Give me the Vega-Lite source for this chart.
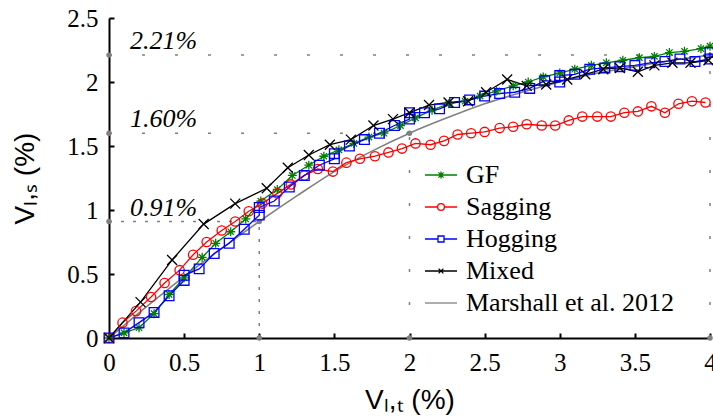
{
  "$schema": "https://vega.github.io/schema/vega-lite/v6.json",
  "width": 601,
  "height": 320,
  "autosize": {"type": "none"},
  "padding": {"left": 109, "top": 18, "right": 3, "bottom": 80},
  "background": "white",
  "config": {
    "view": {"stroke": null},
    "axis": {
      "domainColor": "black", "domainWidth": 2, "tickColor": "black", "tickWidth": 2,
      "tickSize": -5, "grid": false, "labelFont": "Liberation Serif", "labelFontSize": 25,
      "labelColor": "black", "titleFont": "Liberation Sans", "titleFontSize": 28,
      "titleFontWeight": "normal", "titleColor": "black", "labelFlush": false, "labelOverlap": false, "format": "~g"
    },
    "text": {"font": "Liberation Serif"}
  },
  "resolve": {"scale": {"shape": "independent", "color": "independent"}},
  "datasets": {
    "series": [
      {"s":"GF","x":0,"y":0},{"s":"GF","x":0.10,"y":0.04},{"s":"GF","x":0.20,"y":0.08},{"s":"GF","x":0.30,"y":0.19},
      {"s":"GF","x":0.40,"y":0.34},{"s":"GF","x":0.50,"y":0.47},{"s":"GF","x":0.62,"y":0.63},{"s":"GF","x":0.71,"y":0.74},
      {"s":"GF","x":0.81,"y":0.83},{"s":"GF","x":0.91,"y":0.93},{"s":"GF","x":1.01,"y":1.07},{"s":"GF","x":1.12,"y":1.16},
      {"s":"GF","x":1.22,"y":1.27},{"s":"GF","x":1.33,"y":1.35},{"s":"GF","x":1.43,"y":1.42},{"s":"GF","x":1.53,"y":1.47},
      {"s":"GF","x":1.63,"y":1.52},{"s":"GF","x":1.73,"y":1.57},{"s":"GF","x":1.83,"y":1.60},{"s":"GF","x":1.94,"y":1.66},
      {"s":"GF","x":2.04,"y":1.72},{"s":"GF","x":2.15,"y":1.78},{"s":"GF","x":2.26,"y":1.83},{"s":"GF","x":2.37,"y":1.85},
      {"s":"GF","x":2.47,"y":1.89},{"s":"GF","x":2.58,"y":1.93},{"s":"GF","x":2.69,"y":1.97},{"s":"GF","x":2.79,"y":2.00},
      {"s":"GF","x":2.89,"y":2.04},{"s":"GF","x":3.00,"y":2.07},{"s":"GF","x":3.10,"y":2.10},{"s":"GF","x":3.21,"y":2.13},
      {"s":"GF","x":3.31,"y":2.15},{"s":"GF","x":3.42,"y":2.17},{"s":"GF","x":3.53,"y":2.19},{"s":"GF","x":3.63,"y":2.20},
      {"s":"GF","x":3.73,"y":2.23},{"s":"GF","x":3.83,"y":2.24},{"s":"GF","x":3.94,"y":2.26},{"s":"GF","x":4.0,"y":2.28},

      {"s":"Sagging","x":0,"y":0},{"s":"Sagging","x":0.09,"y":0.12},{"s":"Sagging","x":0.18,"y":0.21},{"s":"Sagging","x":0.28,"y":0.32},
      {"s":"Sagging","x":0.37,"y":0.43},{"s":"Sagging","x":0.47,"y":0.53},{"s":"Sagging","x":0.56,"y":0.65},{"s":"Sagging","x":0.65,"y":0.75},
      {"s":"Sagging","x":0.75,"y":0.84},{"s":"Sagging","x":0.84,"y":0.91},{"s":"Sagging","x":0.93,"y":0.99},{"s":"Sagging","x":1.02,"y":1.05},
      {"s":"Sagging","x":1.12,"y":1.13},{"s":"Sagging","x":1.21,"y":1.20},{"s":"Sagging","x":1.30,"y":1.27},{"s":"Sagging","x":1.39,"y":1.32},
      {"s":"Sagging","x":1.49,"y":1.30},{"s":"Sagging","x":1.58,"y":1.37},{"s":"Sagging","x":1.67,"y":1.40},{"s":"Sagging","x":1.77,"y":1.42},
      {"s":"Sagging","x":1.86,"y":1.45},{"s":"Sagging","x":1.95,"y":1.48},{"s":"Sagging","x":2.04,"y":1.52},{"s":"Sagging","x":2.14,"y":1.51},
      {"s":"Sagging","x":2.23,"y":1.54},{"s":"Sagging","x":2.32,"y":1.59},{"s":"Sagging","x":2.41,"y":1.60},{"s":"Sagging","x":2.50,"y":1.61},
      {"s":"Sagging","x":2.60,"y":1.64},{"s":"Sagging","x":2.69,"y":1.65},{"s":"Sagging","x":2.78,"y":1.67},{"s":"Sagging","x":2.88,"y":1.66},
      {"s":"Sagging","x":2.97,"y":1.66},{"s":"Sagging","x":3.06,"y":1.70},{"s":"Sagging","x":3.15,"y":1.73},{"s":"Sagging","x":3.25,"y":1.73},
      {"s":"Sagging","x":3.34,"y":1.73},{"s":"Sagging","x":3.43,"y":1.76},{"s":"Sagging","x":3.52,"y":1.77},{"s":"Sagging","x":3.61,"y":1.81},
      {"s":"Sagging","x":3.70,"y":1.76},{"s":"Sagging","x":3.79,"y":1.83},{"s":"Sagging","x":3.88,"y":1.85},{"s":"Sagging","x":3.97,"y":1.84},

      {"s":"Hogging","x":0,"y":0},{"s":"Hogging","x":0.1,"y":0.04},{"s":"Hogging","x":0.2,"y":0.12},{"s":"Hogging","x":0.3,"y":0.20},
      {"s":"Hogging","x":0.4,"y":0.33},{"s":"Hogging","x":0.5,"y":0.45},{"s":"Hogging","x":0.5,"y":0.49},{"s":"Hogging","x":0.6,"y":0.54},
      {"s":"Hogging","x":0.7,"y":0.66},{"s":"Hogging","x":0.8,"y":0.74},{"s":"Hogging","x":0.9,"y":0.85},{"s":"Hogging","x":1.0,"y":0.96},
      {"s":"Hogging","x":1.0,"y":1.02},{"s":"Hogging","x":1.1,"y":1.07},{"s":"Hogging","x":1.2,"y":1.18},{"s":"Hogging","x":1.3,"y":1.27},
      {"s":"Hogging","x":1.4,"y":1.35},{"s":"Hogging","x":1.5,"y":1.40},{"s":"Hogging","x":1.5,"y":1.44},{"s":"Hogging","x":1.6,"y":1.50},
      {"s":"Hogging","x":1.7,"y":1.55},{"s":"Hogging","x":1.8,"y":1.60},{"s":"Hogging","x":1.9,"y":1.66},{"s":"Hogging","x":2.0,"y":1.71},
      {"s":"Hogging","x":2.0,"y":1.76},{"s":"Hogging","x":2.1,"y":1.76},{"s":"Hogging","x":2.2,"y":1.79},{"s":"Hogging","x":2.3,"y":1.84},
      {"s":"Hogging","x":2.4,"y":1.86},{"s":"Hogging","x":2.5,"y":1.89},{"s":"Hogging","x":2.6,"y":1.91},{"s":"Hogging","x":2.7,"y":1.92},
      {"s":"Hogging","x":2.8,"y":1.95},{"s":"Hogging","x":2.9,"y":2.01},{"s":"Hogging","x":3.0,"y":2.00},{"s":"Hogging","x":3.0,"y":2.05},
      {"s":"Hogging","x":3.1,"y":2.06},{"s":"Hogging","x":3.2,"y":2.10},{"s":"Hogging","x":3.3,"y":2.11},{"s":"Hogging","x":3.4,"y":2.12},
      {"s":"Hogging","x":3.5,"y":2.13},{"s":"Hogging","x":3.6,"y":2.15},{"s":"Hogging","x":3.7,"y":2.16},{"s":"Hogging","x":3.8,"y":2.18},
      {"s":"Hogging","x":3.9,"y":2.16},{"s":"Hogging","x":4.0,"y":2.18},{"s":"Hogging","x":4.0,"y":2.23},

      {"s":"Mixed","x":0,"y":0},{"s":"Mixed","x":0.21,"y":0.28},{"s":"Mixed","x":0.42,"y":0.61},{"s":"Mixed","x":0.63,"y":0.89},
      {"s":"Mixed","x":0.84,"y":1.05},{"s":"Mixed","x":1.05,"y":1.17},{"s":"Mixed","x":1.19,"y":1.33},{"s":"Mixed","x":1.33,"y":1.43},
      {"s":"Mixed","x":1.47,"y":1.51},{"s":"Mixed","x":1.61,"y":1.55},{"s":"Mixed","x":1.76,"y":1.66},{"s":"Mixed","x":1.89,"y":1.71},
      {"s":"Mixed","x":2.00,"y":1.76},{"s":"Mixed","x":2.13,"y":1.82},{"s":"Mixed","x":2.26,"y":1.84},{"s":"Mixed","x":2.39,"y":1.85},
      {"s":"Mixed","x":2.51,"y":1.92},{"s":"Mixed","x":2.65,"y":2.02},{"s":"Mixed","x":2.78,"y":1.97},{"s":"Mixed","x":2.91,"y":1.98},
      {"s":"Mixed","x":3.05,"y":2.02},{"s":"Mixed","x":3.17,"y":2.06},{"s":"Mixed","x":3.29,"y":2.10},{"s":"Mixed","x":3.40,"y":2.11},
      {"s":"Mixed","x":3.52,"y":2.08},{"s":"Mixed","x":3.63,"y":2.13},{"s":"Mixed","x":3.75,"y":2.15},{"s":"Mixed","x":3.87,"y":2.15},
      {"s":"Mixed","x":3.99,"y":2.17}
    ],
    "marshall": [
      {"x":0,"y":0},{"x":0.25,"y":0.245},{"x":0.5,"y":0.48},{"x":0.75,"y":0.70},{"x":1,"y":0.91},
      {"x":1.25,"y":1.11},{"x":1.5,"y":1.30},{"x":1.75,"y":1.46},{"x":2,"y":1.60},{"x":2.25,"y":1.72},
      {"x":2.5,"y":1.83},{"x":2.75,"y":1.92},{"x":3,"y":2.00},{"x":3.25,"y":2.07},{"x":3.5,"y":2.12},
      {"x":3.75,"y":2.17},{"x":4,"y":2.21}
    ],
    "guides": [
      {"g":"a","x":0,"y":0.91,"x2":1,"y2":0.91},{"g":"a","x":1,"y":0,"x2":1,"y2":0.91},
      {"g":"b","x":0,"y":1.60,"x2":2,"y2":1.60},{"g":"b","x":2,"y":0,"x2":2,"y2":1.60},
      {"g":"b","x":0,"y":2.21,"x2":4,"y2":2.21},{"g":"b","x":4,"y":0,"x2":4,"y2":2.21}
    ],
    "dots": [
      {"x":0,"y":0.91},{"x":0,"y":1.60},{"x":0,"y":2.21},{"x":1,"y":0},{"x":2,"y":0},{"x":4,"y":0},
      {"x":1,"y":0.91},{"x":2,"y":1.60},{"x":4,"y":2.21}
    ],
    "pct": [
      {"v":0.91,"t":"0.91%"},{"v":1.60,"t":"1.60%"},{"v":2.21,"t":"2.21%"}
    ],
    "legendkeys": [
      {"s":"GF"},{"s":"Sagging"},{"s":"Hogging"},{"s":"Mixed"},{"s":"Marshall et al. 2012"}
    ]
  },
  "layer": [
    {
      "data": {"name": "guides"},
      "transform": [{"filter": "datum.g === 'a'"}],
      "mark": {"type": "rule", "color": "#808080", "strokeWidth": 1.5, "strokeDash": [3, 9]},
      "encoding": {
        "x": {"field": "x", "type": "quantitative", "scale": {"domain": [0, 4], "nice": false},
          "axis": {"title": "Vₗ,ₜ (%)", "values": [0,0.5,1,1.5,2,2.5,3,3.5,4], "labelPadding": 17, "titleBaseline": "alphabetic", "titleY": 70}},
        "y": {"field": "y", "type": "quantitative", "scale": {"domain": [0, 2.5], "nice": false},
          "axis": {"title": "Vₗ,ₛ (%)", "values": [0,0.5,1,1.5,2,2.5], "labelPadding": 16, "titleBaseline": "alphabetic", "titleX": -76, "titleY": 160, "titleAngle": 270}},
        "x2": {"field": "x2"}, "y2": {"field": "y2"}}
    },
    {
      "data": {"name": "guides"},
      "transform": [{"filter": "datum.g === 'b'"}],
      "mark": {"type": "rule", "color": "#808080", "strokeWidth": 1.5, "strokeDash": [3, 30]},
      "encoding": {"x": {"field": "x", "type": "quantitative"}, "y": {"field": "y", "type": "quantitative"},
        "x2": {"field": "x2"}, "y2": {"field": "y2"}}
    },
    {
      "data": {"name": "dots"},
      "mark": {"type": "point", "filled": true, "color": "#808080", "size": 30, "opacity": 1},
      "encoding": {"x": {"field": "x", "type": "quantitative"}, "y": {"field": "y", "type": "quantitative"}}
    },
    {
      "data": {"name": "marshall"},
      "mark": {"type": "line", "strokeWidth": 1.6, "interpolate": "monotone", "color": "#808080"},
      "encoding": {"x": {"field": "x", "type": "quantitative"}, "y": {"field": "y", "type": "quantitative"}}
    },
    {
      "data": {"name": "series"},
      "mark": {"type": "line", "strokeWidth": 1.3},
      "encoding": {
        "x": {"field": "x", "type": "quantitative"}, "y": {"field": "y", "type": "quantitative"},
        "color": {"field": "s", "type": "nominal", "legend": null,
          "scale": {"domain": ["GF", "Sagging", "Hogging", "Mixed"],
                    "range": ["#008000", "#ff0000", "#0000ff", "#000000"]}}
      }
    },
    {
      "data": {"name": "series"},
      "mark": {"type": "point", "filled": false, "strokeWidth": 1.3, "opacity": 1},
      "encoding": {
        "x": {"field": "x", "type": "quantitative"}, "y": {"field": "y", "type": "quantitative"},
        "color": {"field": "s", "type": "nominal", "legend": null,
          "scale": {"domain": ["GF", "Sagging", "Hogging", "Mixed"],
                    "range": ["#008000", "#ff0000", "#0000ff", "#000000"]}},
        "shape": {"field": "s", "type": "nominal", "legend": null,
          "scale": {"domain": ["GF", "Sagging", "Hogging", "Mixed"],
                    "range": ["M-1,0H1M0,-1V1M-0.7,-0.7L0.7,0.7M-0.7,0.7L0.7,-0.7", "circle", "square", "M-1,-1L1,1M-1,1L1,-1"]}},
        "size": {"field": "s", "type": "nominal", "legend": null,
          "scale": {"domain": ["GF", "Sagging", "Hogging", "Mixed"], "range": [81, 100, 72, 49]}}
      }
    },
    {
      "data": {"name": "legendkeys"},
      "mark": {"type": "point", "filled": false, "opacity": 0, "strokeWidth": 1.3},
      "encoding": {
        "x": {"datum": 0},
        "y": {"datum": 0},
        "color": {"field": "s", "type": "nominal",
          "scale": {"domain": ["GF", "Sagging", "Hogging", "Mixed", "Marshall et al. 2012"],
                    "range": ["#008000", "#ff0000", "#0000ff", "#000000", "#808080"]},
          "legend": {
            "title": null, "orient": "none", "legendX": 319, "legendY": 144, "padding": 0,
            "rowPadding": 6, "labelOffset": 12, "labelFont": "Liberation Serif", "labelFontSize": 26,
            "labelColor": "black", "symbolSize": 64, "symbolStrokeWidth": 1.3, "labelLimit": 400,
            "symbolOpacity": 1, "symbolFillColor": "transparent"
          }},
        "shape": {"field": "s", "type": "nominal",
          "scale": {"domain": ["GF", "Sagging", "Hogging", "Mixed", "Marshall et al. 2012"],
                    "range": ["M-4,0H4M0,-0.9V0.9M-0.65,-0.65L0.65,0.65M-0.65,0.65L0.65,-0.65",
                              "M-4,0H-0.85M0.85,0H4M0.85,0A0.85,0.85,0,1,1,-0.85,0A0.85,0.85,0,1,1,0.85,0",
                              "M-4,0H-0.75M0.75,0H4M-0.75,-0.75H0.75V0.75H-0.75Z",
                              "M-4,0H4M-0.6,-0.6L0.6,0.6M-0.6,0.6L0.6,-0.6",
                              "M-4,0H4"]},
          "legend": {
            "title": null, "orient": "none", "legendX": 319, "legendY": 144, "padding": 0,
            "rowPadding": 6, "labelOffset": 12, "labelFont": "Liberation Serif", "labelFontSize": 26,
            "labelColor": "black", "symbolSize": 64, "symbolStrokeWidth": 1.3, "labelLimit": 400,
            "symbolOpacity": 1, "symbolFillColor": "transparent"
          }}
      }
    },
    {
      "data": {"name": "pct"},
      "mark": {"type": "text", "fontSize": 26, "fontStyle": "italic", "align": "left", "baseline": "bottom", "dy": -1, "fill": "black", "opacity": 1},
      "encoding": {
        "x": {"datum": 0.14, "type": "quantitative"},
        "y": {"field": "v", "type": "quantitative"},
        "text": {"field": "t", "type": "nominal"}
      }
    }
  ]
}
